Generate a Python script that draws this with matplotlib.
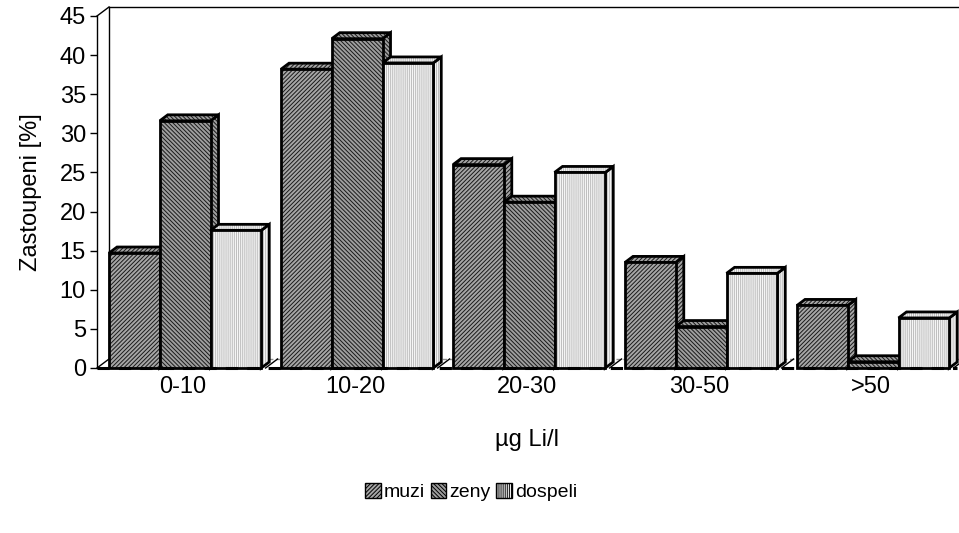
import matplotlib
matplotlib.use("Agg")
import matplotlib.pyplot as plt
from matplotlib.patches import Polygon

plt.rcParams['font.family'] = ['Liberation Sans', 'DejaVu Sans']
plt.rcParams['hatch.linewidth'] = 0.7

categories = ["0-10", "10-20", "20-30", "30-50", ">50"]
series_names = ["muzi", "zeny", "dospeli"]
muzi = [14.7, 38.2, 26.0, 13.5, 8.0]
zeny = [31.6, 42.1, 21.2, 5.3, 0.8]
dospeli = [17.6, 39.0, 25.0, 12.1, 6.4]
yticks = [0, 5, 10, 15, 20, 25, 30, 35, 40, 45]

series = [muzi, zeny, dospeli]
styles = [
    dict(face="#a6a6a6", hatch="////////", hc="#1a1a1a"),
    dict(face="#9e9e9e", hatch="\\\\\\\\\\\\\\\\", hc="#1a1a1a"),
    dict(face="#f6f6f6", hatch="||||||||", hc="#bcbcbc"),
]

W, H = 959, 533
fig = plt.figure(figsize=(W / 100, H / 100), dpi=100)
ax = fig.add_axes([97 / W, 1 - 368 / H, 860 / W, 352 / H])
ax.set_xlim(-0.5, 4.5)
ax.set_ylim(0, 45)
for s in ax.spines.values():
    s.set_visible(False)

# pixel -> data conversion for the depth offsets
pos = ax.get_position()
px_x = pos.width * W / 5.0
px_y = pos.height * H / 45.0
wdx, wdy = 12 / px_x, 9 / px_y      # wall / floor depth
bdx, bdy = 8 / px_x, 6 / px_y       # bar depth

kw = dict(clip_on=False)
# walls and floor
x0, x1 = -0.5, 4.5
ax.plot([x0, x0], [0, 45], color="black", lw=1.0, **kw)
ax.plot([x0, x0 + wdx], [45, 45 + wdy], color="black", lw=1.0, **kw)
ax.plot([x0 + wdx, x0 + wdx], [wdy, 45 + wdy], color="black", lw=1.0, **kw)
ax.plot([x0 + wdx, x1 + wdx + 0.1], [45 + wdy, 45 + wdy], color="black", lw=1.0, **kw)
ax.plot([x0, x0 + wdx], [0, wdy], color="black", lw=1.0, **kw)
ax.plot([x0 + wdx, x1 + wdx], [wdy, wdy], color="#909090", lw=1.0, ls=(0, (3, 2)), **kw)
for b in range(1, 6):
    xb = x0 + b
    ax.plot([xb - 0.02, xb - 0.02 + wdx], [0, wdy], color="black", lw=1.0, **kw)

# bars drawn in front-to-back order so later bars cover earlier side faces
bw = 0.295
lead = 0.07
for i in range(len(categories)):
    for k, vals in enumerate(series):
        v = vals[i]
        st = styles[k]
        xl = i - 0.5 + lead + k * bw
        xr = xl + bw
        front = [(xl, 0), (xr, 0), (xr, v), (xl, v)]
        side = [(xr, 0), (xr + bdx, bdy), (xr + bdx, v + bdy), (xr, v)]
        top = [(xl, v), (xr, v), (xr + bdx, v + bdy), (xl + bdx, v + bdy)]
        for poly in (side, top, front):
            ax.add_patch(Polygon(poly, closed=True, facecolor=st["face"],
                                 edgecolor=st["hc"], hatch=st["hatch"],
                                 linewidth=0, zorder=3 + i * 3 + k, clip_on=False))
            ax.add_patch(Polygon(poly, closed=True, fill=False, edgecolor="black",
                                 linewidth=2.0, joinstyle="miter",
                                 zorder=3 + i * 3 + k, clip_on=False))

# front floor edge
ax.plot([x0, x1], [0, 0], color="black", lw=2.2, ls=(0, (4, 3)), zorder=40, clip_on=False)

ax.set_yticks(yticks)
ax.set_yticklabels([str(t) for t in yticks], fontsize=17)
ax.set_xticks(range(len(categories)))
ax.set_xticklabels(categories, fontsize=17)
ax.tick_params(axis="y", length=5, width=1.0, pad=3, direction="out")
ax.tick_params(axis="x", length=0, pad=6)
ax.set_ylabel("Zastoupeni [%]", fontsize=17, labelpad=13)
ax.set_xlabel("µg Li/l", fontsize=17, labelpad=22)

# legend
handles = []
for k, st in enumerate(styles):
    h = Polygon([(0, 0)], facecolor=st["face"], edgecolor=st["hc"], hatch=st["hatch"], linewidth=0)
    handles.append(h)
leg = fig.legend(handles, series_names, loc="center", bbox_to_anchor=(471 / W, 1 - 492 / H),
                 ncol=3, frameon=False, fontsize=14, handlelength=0.8, handleheight=0.8,
                 handletextpad=0.15, columnspacing=0.3, borderpad=0)
for p in leg.get_patches():
    p.set_edgecolor("black")
    p.set_linewidth(1.0)

fig.savefig("out.png", dpi=100)
